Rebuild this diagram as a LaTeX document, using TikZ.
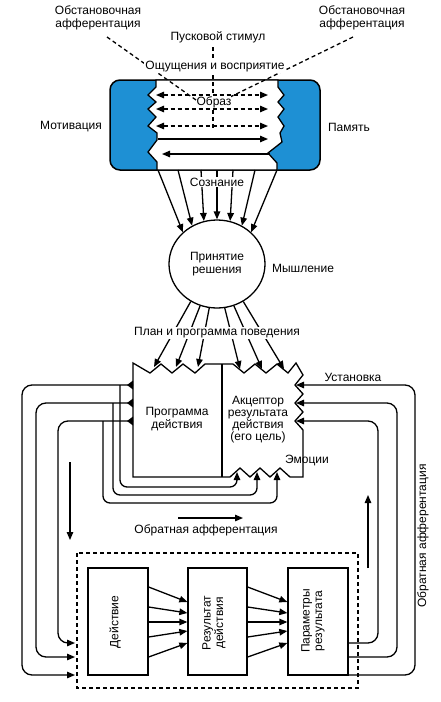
\documentclass[tikz,border=0pt]{standalone}
\usepackage{fontspec}
\setmainfont{Liberation Sans}
\usetikzlibrary{arrows.meta,shapes.geometric}
\definecolor{boxblue}{RGB}{30,144,212}
\begin{document}
\begin{tikzpicture}[x=1pt,y=-1pt,
  lbl/.style={font=\fontsize{12}{12.5}\selectfont, align=center, inner sep=1pt},
  wl/.style={lbl, fill=white},
  ln/.style={line width=1.3pt},
  tip/.style={-{Triangle[length=8pt,width=6.5pt]}},
  arr/.style={ln, tip},
  dl/.style={line width=1.3pt, dash pattern=on 4pt off 3pt},
  darr/.style={dl, {Triangle[length=8pt,width=6.5pt]}-{Triangle[length=8pt,width=6.5pt]}},
  rc/.style={rounded corners=10pt},
  rcs/.style={rounded corners=7pt},
  bx/.style={draw, line width=1.3pt, minimum width=60pt, minimum height=107pt, inner sep=0pt},
]
\fill[white] (0,0) rectangle (440,702);
\useasboundingbox (0,0) rectangle (440,702);

% ---------- top box ----------
\draw[line width=1.5pt, fill=boxblue, rounded corners=10pt] (110,80) rectangle (320,170);
\draw[ln, fill=white] (156,80) -- (156,87) -- (148,95) -- (156,102) -- (148,109) -- (156,117) -- (148,126) -- (157,133) -- (157,140) -- (148,152) -- (157,162) -- (157,170)
  -- (277,170) -- (277,163) -- (268,153) -- (282,142) -- (280,133) -- (284,126) -- (278,117) -- (284,109) -- (278,102) -- (284,95) -- (278,87) -- (278,80) -- cycle;

% dashed afferent lines
\coordinate (dl1) at (107,37);  \coordinate (dl2) at (196,100);
\coordinate (dr1) at (353,37);  \coordinate (dr2) at (228,98);
\coordinate (dv1) at (213,47);  \coordinate (dv2) at (213,128);
\draw[dl] (dl1) -- (dl2);
\draw[dl] (dr1) -- (dr2);
\draw[dl] (dv1) -- (dv2);

% arrows inside the image box
\foreach \yy/\nm in {95/a,109/b,126/c}{
  \coordinate (il\nm) at (156,\yy); \coordinate (ir\nm) at (268,\yy);
  \draw[darr] (il\nm) -- (ir\nm);
}
\coordinate (sl1) at (158,139); \coordinate (sr1) at (268,139);
\coordinate (sl2) at (162,154); \coordinate (sr2) at (270,154);
\draw[arr] (sl1) -- (sr1);
\draw[arr] (sr2) -- (sl2);

% labels top
\node[lbl] (afl) at (98,18) {Обстановочная\\афферентация};
\node[lbl] (afr) at (362,18) {Обстановочная\\афферентация};
\node[wl] (stim) at (218,37) {Пусковой стимул};
\node[wl] (sens) at (215,67) {Ощущения и восприятие};
\node[lbl, fill=white, inner sep=0pt] (obraz) at (214,102) {Образ};
\node[lbl] (motiv) at (71,127) {Мотивация};
\node[lbl] (mem) at (349,127) {Память};

% ---------- decision circle ----------
\node[ellipse, draw, line width=1.3pt, minimum width=96pt, minimum height=88pt, inner sep=0pt, lbl] (dec) at (217,264) {Принятие\\решения};
\node[lbl] (think) at (303,268) {Мышление};

\coordinate (s1) at (158,170); \coordinate (s2) at (178,170); \coordinate (s3) at (201,170);
\coordinate (s4) at (217,170); \coordinate (s5) at (233,170); \coordinate (s6) at (255,170);
\coordinate (s7) at (277,170);
\draw[arr] (s1) -- (dec.137.6);
\draw[arr] (s2) -- (dec.123.4);
\draw[arr] (s3) -- (dec.107.6);
\draw[arr] (s4) -- (dec.90);
\draw[arr] (s5) -- (dec.73.5);
\draw[arr] (s6) -- (dec.57.6);
\draw[arr] (s7) -- (dec.43.4);
\node[wl] (consc) at (217,182) {Сознание};

% ---------- program / acceptor box ----------
\draw[ln, line join=miter] (133,363) -- (150,373) -- (161,364) -- (172,373) -- (183,364) -- (195,373) -- (205,364) -- (233,364) -- (244,373) -- (255,364) -- (266,373) -- (277,364) -- (288,373) -- (296,363)
  -- (303,375) -- (295,385) -- (303,394) -- (295,403) -- (303,412) -- (295,421) -- (303,430) -- (303,477)
  -- (290,477) -- (280,468) -- (270,477) -- (260,468) -- (250,477) -- (240,468) -- (230,477) -- (133,477) -- cycle;
\coordinate (divt) at (222,364); \coordinate (divb) at (222,477);
\draw[ln] (divt) -- (divb);
\node[lbl] (prog) at (177,419) {Программа\\действия};
\node[lbl, font=\fontsize{12}{12}\selectfont] (acc) at (258,420) {Акцептор\\результата\\действия\\(его цель)};
\node[lbl] (emo) at (307,460) {Эмоции};
\node[lbl] (ust) at (353,377) {Установка};

\coordinate (p1) at (154,367); \coordinate (p2) at (176,367); \coordinate (p3) at (198,367);
\coordinate (p4) at (240,369); \coordinate (p5) at (262,369); \coordinate (p6) at (284,369);
\draw[arr] (dec.-125) -- (p1);
\draw[arr] (dec.-112) -- (p2);
\draw[arr] (dec.-100) -- (p3);
\draw[arr] (dec.-80) -- (p4);
\draw[arr] (dec.-68) -- (p5);
\draw[arr] (dec.-55) -- (p6);
\node[wl] (plan) at (217,333) {План и программа поведения};

% ---------- action block ----------
\draw[dl] (77,553) rectangle (358,688);
\node[bx] (act) at (118,621.5) {};
\node[bx, minimum width=59pt] (res) at (217.5,621.5) {};
\node[bx] (par) at (318,621.5) {};
\node[lbl, rotate=90] (actt) at (115,622) {Действие};
\node[lbl, rotate=90] (rest) at (214,623) {Результат\\действия};
\node[lbl, rotate=90] (part) at (313,621) {Параметры\\результата};

\foreach \ya/\yb in {587/602,607/613,622/622,637/631,657/643}{
  \draw[arr] (act.east |- 0,\ya) -- (res.west |- 0,\yb);
  \draw[arr] (res.east |- 0,\ya) -- (par.west |- 0,\yb);
}

% ---------- efferent loops (left) ----------
\foreach \yy in {385,403,421}{
  \fill (133,\yy-4.5) -- (127,\yy) -- (133,\yy+4.5) -- cycle;
}
\coordinate (la0) at (133,385); \coordinate (la1) at (75,675);
\coordinate (lb0) at (133,403); \coordinate (lb1) at (75,657);
\coordinate (lc0) at (133,421); \coordinate (lc1) at (75,643);
\draw[arr, rc] (la0) -- (22,385) -- (22,675) -- (la1);
\draw[arr, rc] (lb0) -- (36,403) -- (36,657) -- (lb1);
\draw[arr, rc] (lc0) -- (58,421) -- (58,643) -- (lc1);

% emotion loops
\coordinate (ea0) at (120,385); \coordinate (ea1) at (237,472);
\coordinate (eb0) at (113,403); \coordinate (eb1) at (257,472);
\coordinate (ec0) at (103,421); \coordinate (ec1) at (277,472);
\draw[arr, rcs] (ea0) -- (120,487) -- (237,487) -- (ea1);
\draw[arr, rcs] (eb0) -- (113,495) -- (257,495) -- (eb1);
\draw[arr, rcs] (ec0) -- (103,503) -- (277,503) -- (ec1);

% ---------- feedback loops (right) ----------
\coordinate (ra1) at (296,385); \coordinate (rb1) at (296,403); \coordinate (rc1) at (296,421);
\draw[arr, rc] (par.east |- 0,675) -- (415,675) -- (415,385) -- (ra1);
\draw[arr, rc] (par.east |- 0,657) -- (397,657) -- (397,403) -- (rb1);
\draw[arr, rc] (par.east |- 0,643) -- (378,643) -- (378,421) -- (rc1);

% free arrows
\coordinate (fd0) at (70,462); \coordinate (fd1) at (70,540);
\coordinate (fh0) at (178,518); \coordinate (fh1) at (243,518);
\coordinate (fu0) at (368,568); \coordinate (fu1) at (368,495);
\draw[arr] (fd0) -- (fd1);
\draw[arr] (fh0) -- (fh1);
\draw[arr] (fu0) -- (fu1);
\node[lbl] (oaf) at (206,530) {Обратная афферентация};
\node[lbl, rotate=90] (oafv) at (423,536) {Обратная афферентация};
\end{tikzpicture}
\end{document}
